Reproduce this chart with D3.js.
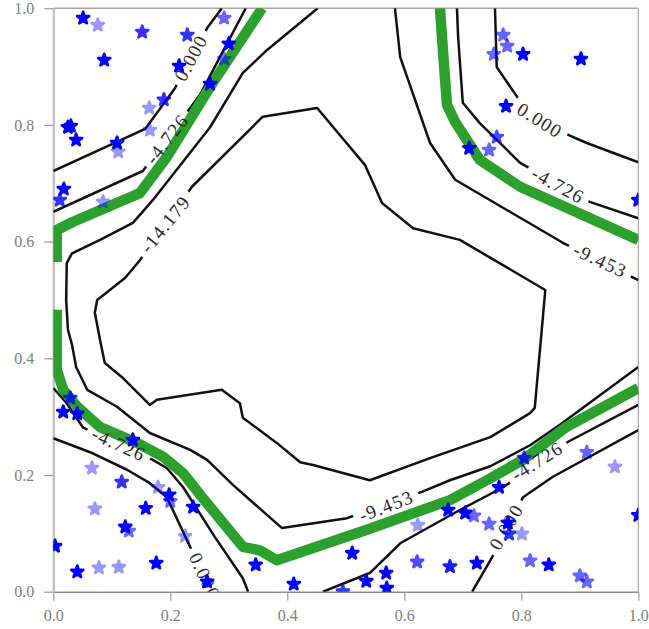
<!DOCTYPE html>
<html>
<head>
<meta charset="utf-8">
<script src="https://cdn.jsdelivr.net/npm/d3@7/dist/d3.min.js"></script>
<style>
  body { margin: 0; background: #fff; }
</style>
</head>
<body>
<div class="canvas"></div>
<script>
// ---------- data (unit square) ----------
const tickValues = [0, 0.2, 0.4, 0.6, 0.8, 1.0];

// black contour lines, [x, y]
const zeroTopLeft = [[0, 0.721], [0.157, 0.793], [0.208, 0.863], [0.263, 0.966], [0.288, 1.0]];
const zeroTopRight = [[0.755, 1.0], [0.758, 0.899], [0.793, 0.848], [0.880, 0.783], [0.912, 0.769], [1.0, 0.736]];
const zeroBottomLeft = [[0, 0.263], [0.063, 0.239], [0.126, 0.209], [0.165, 0.186], [0.194, 0.162], [0.239, 0.066], [0.270, 0]];
const zeroBottomRight = [[0.716, 0], [0.750, 0.059], [0.803, 0.162], [0.854, 0.197], [1.0, 0.277]];

const m4TopLeft = [[0, 0.651], [0.153, 0.721], [0.234, 0.829], [0.251, 0.852], [0.329, 1.0]];
const m4TopRight = [[0.690, 1.0], [0.692, 0.951], [0.700, 0.838], [0.729, 0.803], [0.798, 0.735], [0.917, 0.668], [1.0, 0.640]];
const m4BottomLeft = [[0, 0.349], [0.023, 0.323], [0.051, 0.281], [0.170, 0.226], [0.194, 0.212], [0.222, 0.179],
  [0.276, 0.094], [0.324, 0.023], [0.333, 0]];
const m4BottomRight = [[0.461, 0], [0.541, 0.032], [0.593, 0.083], [0.695, 0.140], [0.769, 0.179], [0.880, 0.257], [1.0, 0.320]];

const m9TopRight = [[0.584, 1.0], [0.593, 0.916], [0.644, 0.769], [0.687, 0.706], [0.871, 0.598], [1.0, 0.534]];
const m9Main = [[0.452, 1.0], [0.365, 0.928], [0.324, 0.889], [0.268, 0.796], [0.170, 0.671], [0.136, 0.632],
  [0.080, 0.603], [0.032, 0.580], [0.023, 0.563], [0.022, 0.500], [0.025, 0.449], [0.032, 0.423], [0.039, 0.385],
  [0.058, 0.346], [0.109, 0.317], [0.165, 0.272], [0.234, 0.243], [0.263, 0.226], [0.307, 0.183], [0.391, 0.109],
  [0.502, 0.126], [0.630, 0.171], [0.678, 0.191], [0.747, 0.215], [0.815, 0.251], [0.866, 0.286], [0.935, 0.337], [1.0, 0.385]];

const m14Loop = [[0.148, 0.568], [0.123, 0.538], [0.075, 0.500], [0.071, 0.478], [0.080, 0.431], [0.088, 0.392],
  [0.117, 0.368], [0.165, 0.320], [0.177, 0.329], [0.288, 0.346], [0.319, 0.323], [0.324, 0.298], [0.382, 0.255],
  [0.422, 0.222], [0.444, 0.217], [0.541, 0.191], [0.644, 0.229], [0.747, 0.265], [0.815, 0.306], [0.823, 0.315],
  [0.835, 0.449], [0.841, 0.517], [0.695, 0.603], [0.615, 0.623], [0.562, 0.666], [0.533, 0.731], [0.451, 0.829],
  [0.358, 0.814], [0.237, 0.694], [0.148, 0.568]];

// thick green contour
const greenUpperLeft = [[0.006, 0.565], [0.006, 0.620], [0.034, 0.634], [0.148, 0.683], [0.194, 0.745], [0.268, 0.865], [0.357, 1.0]];
const greenLower = [[0.006, 0.483], [0.006, 0.380], [0.017, 0.346], [0.041, 0.317], [0.080, 0.282], [0.143, 0.255],
  [0.188, 0.231], [0.222, 0.203], [0.251, 0.166], [0.324, 0.077], [0.353, 0.071], [0.382, 0.054], [0.536, 0.106],
  [0.678, 0.157], [0.741, 0.191], [0.803, 0.226], [0.875, 0.281], [1.0, 0.349]];
const greenTopRight = [[0.661, 1.0], [0.666, 0.928], [0.673, 0.834], [0.687, 0.805], [0.729, 0.740], [0.798, 0.694], [1.0, 0.603]];

// contour labels
const labelText = ["0.000", "0.000", "0.000", "0.000", "-4.726", "-4.726", "-4.726", "-4.726", "-9.453", "-9.453", "-14.179"];
const labelX = [0.235, 0.832, 0.259, 0.774, 0.194, 0.863, 0.112, 0.827, 0.569, 0.935, 0.191];
const labelY = [0.915, 0.808, 0.027, 0.111, 0.776, 0.697, 0.253, 0.224, 0.147, 0.568, 0.630];
const labelAngle = [-62, 32, 65, -60, -52, 28, 24, -32, -21, 25, -51];

// scatter points and their weight
const pointX = [0.051, 0.076, 0.152, 0.229, 0.087, 0.215, 0.268, 0.189, 0.164, 0.025, 0.030, 0.039, 0.165, 0.109, 0.111,
  0.018, 0.011, 0.085, 0.292, 0.300, 0.292, 0.769, 0.776, 0.753, 0.803, 0.902, 0.774, 0.758, 0.745, 0.711, 1.000,
  0.029, 0.017, 0.041, 0.136, 0.066, 0.117, 0.179, 0.198, 0.200, 0.071, 0.158, 0.123, 0.129, 0.225, 0.239, 0.003,
  0.041, 0.078, 0.112, 0.176, 0.263, 0.511, 0.346, 0.411, 0.495, 0.535, 0.569, 0.570, 0.623, 0.622, 0.675, 0.678,
  0.805, 0.912, 0.960, 0.762, 0.704, 0.719, 0.745, 0.777, 0.779, 0.801, 1.000, 0.724, 0.815, 0.847, 0.900, 0.912];
const pointY = [0.983, 0.971, 0.959, 0.954, 0.911, 0.901, 0.870, 0.843, 0.829, 0.796, 0.798, 0.774, 0.791, 0.769, 0.754,
  0.690, 0.671, 0.668, 0.983, 0.939, 0.913, 0.954, 0.935, 0.921, 0.921, 0.913, 0.832, 0.779, 0.757, 0.760, 0.671,
  0.332, 0.308, 0.305, 0.260, 0.212, 0.188, 0.179, 0.166, 0.155, 0.142, 0.143, 0.111, 0.104, 0.095, 0.145, 0.078,
  0.034, 0.041, 0.042, 0.049, 0.017, 0.066, 0.046, 0.013, 0.000, 0.018, 0.032, 0.006, 0.114, 0.051, 0.140, 0.043,
  0.229, 0.239, 0.214, 0.179, 0.135, 0.130, 0.116, 0.118, 0.099, 0.099, 0.131, 0.049, 0.053, 0.046, 0.027, 0.017];
const pointWeight = [1, 0.4, 0.8, 0.8, 1, 1, 1, 0.8, 0.4, 1, 1, 1, 0.4, 1, 0.4,
  1, 0.8, 0.4, 0.6, 1, 0.5, 0.6, 0.6, 0.6, 1, 1, 1, 0.7, 0.6, 1, 1,
  0.8, 1, 1, 1, 0.4, 0.8, 0.4, 1, 0.6, 0.4, 1, 1, 0.6, 0.4, 1, 1,
  1, 0.4, 0.4, 1, 1, 1, 1, 1, 0.8, 1, 1, 1, 0.4, 0.7, 1, 0.9,
  0.8, 0.6, 0.4, 1, 1, 0.6, 0.6, 1, 0.8, 0.4, 1, 1, 0.6, 1, 0.6, 0.6];

// ---------- layout ----------
const W = 649, H = 629;
const plot = { left: 53.3, right: 638.3, top: 8.2, bottom: 591.7 };

const svg = d3.select(".canvas")
  .append("svg")
  .attr("width", W)
  .attr("height", H);

const x = d3.scaleLinear().domain([0, 1]).range([plot.left, plot.right]);
const y = d3.scaleLinear().domain([0, 1]).range([plot.bottom, plot.top]);

const defs = svg.append("defs");
defs.append("clipPath").attr("id", "plotClip")
  .append("rect")
  .attr("x", plot.left).attr("y", plot.top)
  .attr("width", plot.right - plot.left).attr("height", plot.bottom - plot.top);

// mask that cuts gaps into black lines where labels sit
const gapMask = defs.append("mask").attr("id", "gaps")
  .attr("maskUnits", "userSpaceOnUse")
  .attr("x", 0).attr("y", 0).attr("width", W).attr("height", H);
gapMask.append("rect").attr("width", W).attr("height", H).attr("fill", "white");

// ---------- axes ----------
const fmt = d3.format(".1f");

const xAxis = svg.append("g")
  .attr("transform", `translate(0,${plot.bottom})`)
  .call(d3.axisBottom(x).tickValues(tickValues).tickFormat(fmt).tickSize(9).tickSizeOuter(0).tickPadding(9));

const yAxis = svg.append("g")
  .attr("transform", `translate(${plot.left},0)`)
  .call(d3.axisLeft(y).tickValues(tickValues).tickFormat(fmt).tickSize(9).tickSizeOuter(0).tickPadding(10));

[xAxis, yAxis].forEach(a => {
  a.selectAll("text")
    .attr("fill", "#808080")
    .style("font-family", "'Liberation Serif', serif")
    .style("font-size", "16px");
  a.selectAll(".tick line").attr("stroke", "#999").attr("stroke-width", 1.2);
});
xAxis.select(".domain").attr("stroke", "#8c8c8c").attr("stroke-width", 1.6);
yAxis.select(".domain").attr("stroke", "#c4c4c4").attr("stroke-width", 2.6);

// top and right spines
svg.append("line")
  .attr("x1", plot.left).attr("x2", plot.right).attr("y1", plot.top).attr("y2", plot.top)
  .attr("stroke", "#a8a8a8").attr("stroke-width", 1.5);
svg.append("line")
  .attr("x1", plot.right).attr("x2", plot.right).attr("y1", plot.top).attr("y2", plot.bottom)
  .attr("stroke", "#a8a8a8").attr("stroke-width", 1.2);

// ---------- contours ----------
const line = d3.line().x(d => x(d[0])).y(d => y(d[1]));

const graph = svg.append("g").attr("clip-path", "url(#plotClip)");

const blackLines = [zeroTopLeft, zeroTopRight, zeroBottomLeft, zeroBottomRight,
  m4TopLeft, m4TopRight, m4BottomLeft, m4BottomRight, m9TopRight, m9Main, m14Loop];
const greenLines = [greenUpperLeft, greenLower, greenTopRight];

graph.append("g")
  .attr("mask", "url(#gaps)")
  .selectAll("path")
  .data(blackLines)
  .enter().append("path")
  .attr("d", line)
  .attr("fill", "none")
  .attr("stroke", "#111")
  .attr("stroke-width", 2.5)
  .attr("stroke-linejoin", "round");

graph.append("g")
  .selectAll("path")
  .data(greenLines)
  .enter().append("path")
  .attr("d", line)
  .attr("fill", "none")
  .attr("stroke", "#2ca02c")
  .attr("stroke-width", 10.5)
  .attr("stroke-linejoin", "round");

// labels
const labels = graph.append("g")
  .selectAll("text")
  .data(labelText)
  .enter().append("text")
  .attr("transform", (d, i) => `translate(${x(labelX[i])},${y(labelY[i])}) rotate(${labelAngle[i]})`)
  .attr("text-anchor", "middle")
  .attr("dy", "0.35em")
  .attr("fill", "#2a2a2a")
  .style("font-family", "'Liberation Serif', serif")
  .style("font-size", "19px")
  .style("letter-spacing", "1.3px")
  .text(d => d);

labels.each(function (d, i) {
  const len = this.getComputedTextLength();
  gapMask.append("rect")
    .attr("x", -len / 2 - 6).attr("y", -9)
    .attr("width", len + 12).attr("height", 18)
    .attr("transform", `translate(${x(labelX[i])},${y(labelY[i])}) rotate(${labelAngle[i]})`)
    .attr("fill", "black");
});

// ---------- scatter ----------
const star = d3.symbol().type(d3.symbolStar).size(44);

graph.append("g")
  .selectAll("path")
  .data(pointX)
  .enter().append("path")
  .attr("d", star)
  .attr("transform", (d, i) => `translate(${x(pointX[i])},${y(pointY[i])})`)
  .attr("fill", "#0000ff")
  .attr("stroke", "#0000ff")
  .attr("stroke-width", 2.8)
  .attr("stroke-linejoin", "round")
  .attr("opacity", (d, i) => pointWeight[i]);
</script>
</body>
</html>
